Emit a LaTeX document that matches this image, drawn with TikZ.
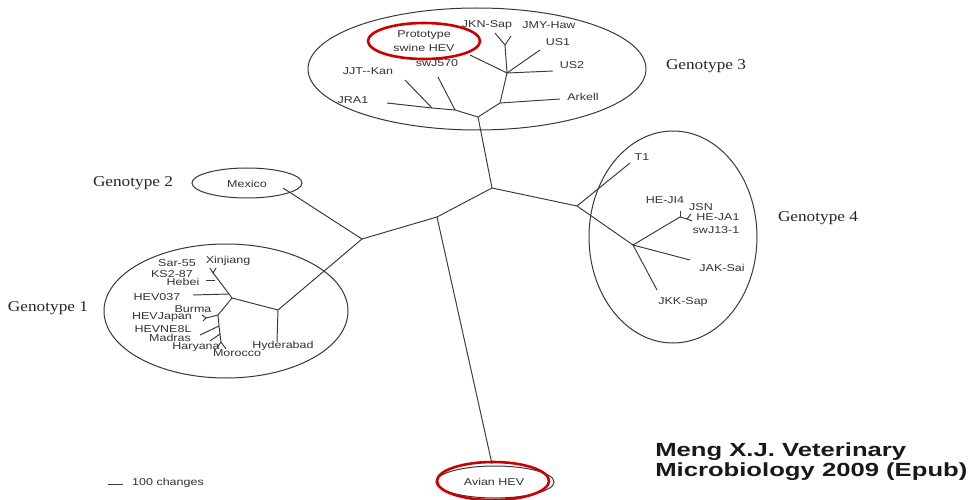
\documentclass[tikz,border=0pt]{standalone}
\usepackage{fontspec}
\setmainfont{Liberation Serif}
\setsansfont{Liberation Sans}
\begin{document}
\begin{tikzpicture}[x=1pt,y=-1pt,
  br/.style={draw=black!78, line width=0.95pt},
  grp/.style={draw=black!78, line width=1pt},
  redring/.style={draw=red!80!black, line width=2.6pt},
  lab/.style={font=\sffamily\fontsize{10}{11}\selectfont, text=black!80, inner sep=0pt, xscale=1.25},
  geno/.style={font=\rmfamily\fontsize{15}{17}\selectfont, text=black!85, inner sep=0pt, xscale=1.15},
  cite/.style={font=\sffamily\bfseries\fontsize{19}{20}\selectfont, text=black!90, inner sep=0pt, xscale=1.35, anchor=base west}]
\useasboundingbox (0,0) rectangle (972,500);
\fill[white] (0,0) rectangle (972,500);

% ---- group outlines
\draw[grp] (477,69) ellipse [x radius=169pt, y radius=61pt];
\draw[grp] (673,237) ellipse [x radius=84pt, y radius=106pt];
\draw[grp] (226,311) ellipse [x radius=122pt, y radius=67pt];
\draw[grp] (247,183) ellipse [x radius=55pt, y radius=15pt];
\draw[grp] (495,482) ellipse [x radius=59pt, y radius=16pt];

% ---- tree coordinates
\coordinate (c0) at (492,188);
\coordinate (r3) at (478,117);
\coordinate (r3a) at (500,103);
\coordinate (r3b) at (507,73);
\coordinate (r3c) at (505,45);
\coordinate (tjkn) at (495,33);
\coordinate (tjmy) at (511,36);
\coordinate (tus1) at (540,50);
\coordinate (tus2) at (553,71);
\coordinate (tproto) at (470,55);
\coordinate (tark) at (560,99);
\coordinate (r3d) at (455,110);
\coordinate (tswj) at (438,77);
\coordinate (r3e) at (432,108);
\coordinate (tjjt) at (405,80);
\coordinate (tjra) at (387,103);

\coordinate (g4) at (577,206);
\coordinate (tt1) at (630,163);
\coordinate (g4a) at (633,245);
\coordinate (tjkk) at (657,290);
\coordinate (tjak) at (690,260);
\coordinate (g4b) at (680,217);
\coordinate (tji4) at (680,211);
\coordinate (g4c) at (687,219);
\coordinate (tjsn) at (691,214);
\coordinate (tja1) at (692,221);

\coordinate (m1) at (437,217);
\coordinate (tavian) at (492,464);
\coordinate (m2) at (362,239);
\coordinate (tmex) at (283,188);
\coordinate (g1) at (278,310);
\coordinate (thyd) at (277,342);
\coordinate (g1a) at (232,298);
\coordinate (g1h) at (229,294);
\coordinate (thev) at (193,295);
\coordinate (g1k) at (215,280);
\coordinate (tks) at (206,280);
\coordinate (g1u) at (217,278);
\coordinate (g1v) at (213,273);
\coordinate (tsar) at (210,268);
\coordinate (txin) at (216,268);
\coordinate (g1l) at (218,315);
\coordinate (g1b) at (206,318);
\coordinate (tbur) at (202,315);
\coordinate (tjap) at (203,321);
\coordinate (g1m) at (219,326);
\coordinate (tne8) at (200,335);
\coordinate (g1n) at (220,334);
\coordinate (tmad) at (210,341);
\coordinate (g1o) at (221,342);
\coordinate (thar) at (217,348);
\coordinate (tmor) at (226,349);

% ---- branches
\draw[br] (c0) -- (r3);
\draw[br] (r3) -- (r3a) -- (r3b) -- (r3c);
\draw[br] (r3c) -- (tjkn);
\draw[br] (r3c) -- (tjmy);
\draw[br] (r3b) -- (tus1);
\draw[br] (r3b) -- (tus2);
\draw[br] (r3b) -- (tproto);
\draw[br] (r3a) -- (tark);
\draw[br] (r3) -- (r3d) -- (r3e) -- (tjra);
\draw[br] (r3d) -- (tswj);
\draw[br] (r3e) -- (tjjt);

\draw[br] (c0) -- (g4);
\draw[br] (g4) -- (tt1);
\draw[br] (g4) -- (g4a);
\draw[br] (g4a) -- (tjkk);
\draw[br] (g4a) -- (tjak);
\draw[br] (g4a) -- (g4b) -- (g4c);
\draw[br] (g4b) -- (tji4);
\draw[br] (g4c) -- (tjsn);
\draw[br] (g4c) -- (tja1);

\draw[br] (c0) -- (m1) -- (m2);
\draw[br] (m1) -- (tavian);
\draw[br] (m2) -- (tmex);
\draw[br] (m2) -- (g1);
\draw[br] (g1) -- (thyd);
\draw[br] (g1) -- (g1a);
\draw[br] (g1a) -- (g1u) -- (g1v);
\draw[br] (g1v) -- (tsar);
\draw[br] (g1v) -- (txin);
\draw[br] (g1k) -- (tks);
\draw[br] (g1h) -- (thev);
\draw[br] (g1a) -- (g1l) -- (g1m) -- (g1n) -- (g1o);
\draw[br] (g1l) -- (g1b);
\draw[br] (g1b) -- (tbur);
\draw[br] (g1b) -- (tjap);
\draw[br] (g1m) -- (tne8);
\draw[br] (g1n) -- (tmad);
\draw[br] (g1o) -- (thar);
\draw[br] (g1o) -- (tmor);

% ---- genotype 3 labels
\node[lab] (ljkn) at (487,25) {JKN-Sap};
\node[lab] (ljmy) at (549,25) {JMY-Haw};
\node[lab] (lus1) at (558,42) {US1};
\node[lab] (lus2) at (572,65) {US2};
\node[lab] (lark) at (583,97) {Arkell};
\node[lab] (ljjt) at (368,71) {JJT{-}{-}Kan};
\node[lab] (lswj) at (437,63) {swJ570};
\node[lab] (ljra) at (353,100) {JRA1};
\draw[redring, fill=white] (424,41) ellipse [x radius=56pt, y radius=18pt];
\node[lab] (lproto1) at (424,35) {Prototype};
\node[lab] (lproto2) at (424,48) {swine HEV};

% ---- genotype 4 labels
\node[lab] (lt1) at (642,157) {T1};
\node[lab] (lji4) at (665,200) {HE-JI4};
\node[lab] (ljsn) at (701,207) {JSN};
\node[lab] (lja1) at (718,217) {HE-JA1};
\node[lab] (lj13) at (716,230) {swJ13-1};
\node[lab] (ljak) at (722,268) {JAK-Sai};
\node[lab] (ljkk) at (683,302) {JKK-Sap};

% ---- genotype 1 & 2 labels
\node[lab] (lmex) at (247,184) {Mexico};
\node[lab] (lsar) at (177,263) {Sar-55};
\node[lab] (lxin) at (228,261) {Xinjiang};
\node[lab] (lks) at (172,274) {KS2-87};
\node[lab] (lheb) at (183,282) {Hebei};
\node[lab] (lhev) at (157,297) {HEV037};
\node[lab] (lbur) at (193,309) {Burma};
\node[lab] (ljap) at (162,317) {HEVJapan};
\node[lab] (lne8) at (163,329) {HEVNE8L};
\node[lab] (lmad) at (170,338) {Madras};
\node[lab] (lhar) at (196,347) {Haryana};
\node[lab] (lmor) at (237,353) {Morocco};
\node[lab] (lhyd) at (283,346) {Hyderabad};

% ---- avian
\draw[redring] (493,481) ellipse [x radius=56pt, y radius=19pt];
\node[lab] (lavian) at (494,482) {Avian HEV};

% ---- genotype labels
\node[geno] (gen3) at (706,66) {Genotype 3};
\node[geno] (gen4) at (818,218) {Genotype 4};
\node[geno] (gen2) at (133,183) {Genotype 2};
\node[geno] (gen1) at (48,308) {Genotype 1};

% ---- scale bar
\coordinate (sb1) at (108,484);
\coordinate (sb2) at (123,484);
\draw[br] (sb1) -- (sb2);
\node[lab] (lscale) at (168,483) {100 changes};

% ---- citation
\node[cite] (cite1) at (655,456) {Meng X.J. Veterinary};
\node[cite] (cite2) at (655,476) {Microbiology 2009 (Epub)};
\end{tikzpicture}
\end{document}
